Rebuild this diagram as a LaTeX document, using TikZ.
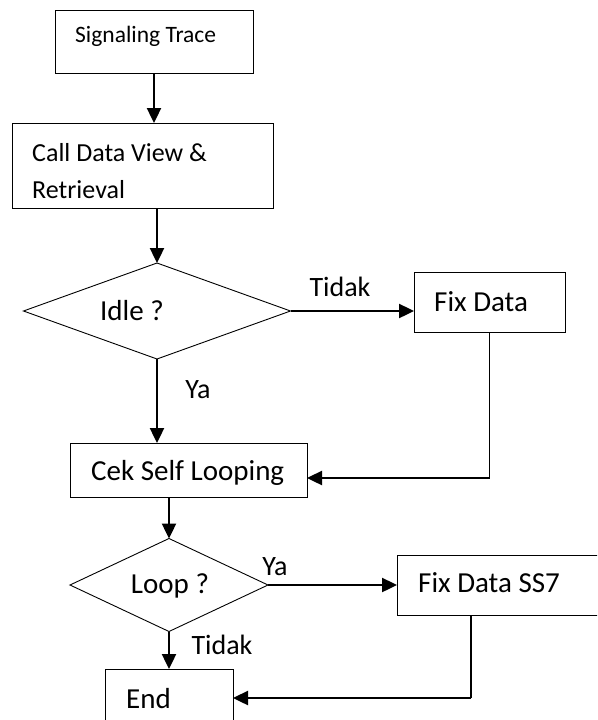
\documentclass[tikz,border=0pt]{standalone}
\usepackage{fontspec}
\setmainfont{Carlito}
\usepackage{tikz}
\usetikzlibrary{positioning}
\usetikzlibrary{shapes.geometric}
\usetikzlibrary{arrows.meta}
\tikzset{box/.style={draw, line width=0.9pt, anchor=north west, inner sep=0pt, outer sep=0pt}}
\tikzset{txt/.style={inner sep=0pt, align=left}}
\tikzset{dec/.style={draw, diamond, line width=0.9pt, inner sep=0pt, outer sep=0pt}}
\tikzset{flow/.style={line width=2.4pt, -{Triangle[length=15pt,width=14pt]}}}
\tikzset{lbl/.style={font=\fontsize{28}{34}\selectfont, inner sep=0pt}}

\begin{document}
\begin{tikzpicture}[x=1pt,y=-1pt,font=\fontsize{29}{37}\selectfont]
\clip (0,0) rectangle (597,720);
\node[box, minimum width=198pt, minimum height=63pt] (trace) at (55,10) {};
\node[txt, right=20pt of trace.west, yshift=5.5pt, font=\fontsize{23.5}{28}\selectfont] (tracetxt) {Signaling Trace};
\node[box, minimum width=261pt, minimum height=85pt] (call) at (12,123) {};
\node[txt, right=20pt of call.west, yshift=-6pt, font=\fontsize{26}{37}\selectfont] (calltxt) {Call Data View \&\\Retrieval};
\node[dec, minimum width=267pt, minimum height=96pt] (idle) at (157,311) {};
\node (idletxt) at (132,311) {Idle ?};
\node[box, minimum width=151pt, minimum height=60pt] (fix) at (414,272) {};
\node[txt, right=20pt of fix.west] (fixtxt) {Fix Data};
\node[box, minimum width=237pt, minimum height=54pt] (cek) at (70,443) {};
\node[txt, right=21pt of cek.west, yshift=-3pt] (cektxt) {Cek Self Looping};
\node[dec, minimum width=198pt, minimum height=93pt] (loop) at (169,585) {};
\node (looptxt) at (170,586) {Loop ?};
\node[box, minimum width=253pt, minimum height=60pt] (ss7) at (397,555) {};
\node[txt, right=21pt of ss7.west, yshift=2pt] (ss7txt) {Fix Data SS7};
\node[box, minimum width=128pt, minimum height=60pt] (end) at (105,669) {};
\node[txt, right=21pt of end.west] (endtxt) {End};
% labels
\node[lbl] (tidak1) at (340,287) {Tidak};
\node[lbl] (ya1) at (198,390) {Ya};
\node[lbl] (ya2) at (275,567) {Ya};
\node[lbl] (tidak2) at (222,645) {Tidak};
% arrows
\draw[flow] (trace.south) -- (trace.south |- call.north);
\draw[flow] (idle.north |- call.south) -- (idle.north);
\draw[flow] (idle.east) -- (idle.east -| fix.west);
\draw[flow] (idle.south) -- (idle.south |- cek.north);
\draw[line width=1.2pt] (fix.south) -- ++(0,146) coordinate (fixturn);
\draw[flow] (fixturn) -- (fixturn -| cek.east);
\draw[flow] (loop.north |- cek.south) -- (loop.north);
\draw[flow] (loop.east) -- (loop.east -| ss7.west);
\draw[flow] (loop.south) -- (loop.south |- end.north);
\draw[line width=1.2pt] ([xshift=74pt]ss7.south west) -- ++(0,83) coordinate (ss7turn);
\draw[flow] (ss7turn) -- (ss7turn -| end.east);
\end{tikzpicture}
\end{document}
